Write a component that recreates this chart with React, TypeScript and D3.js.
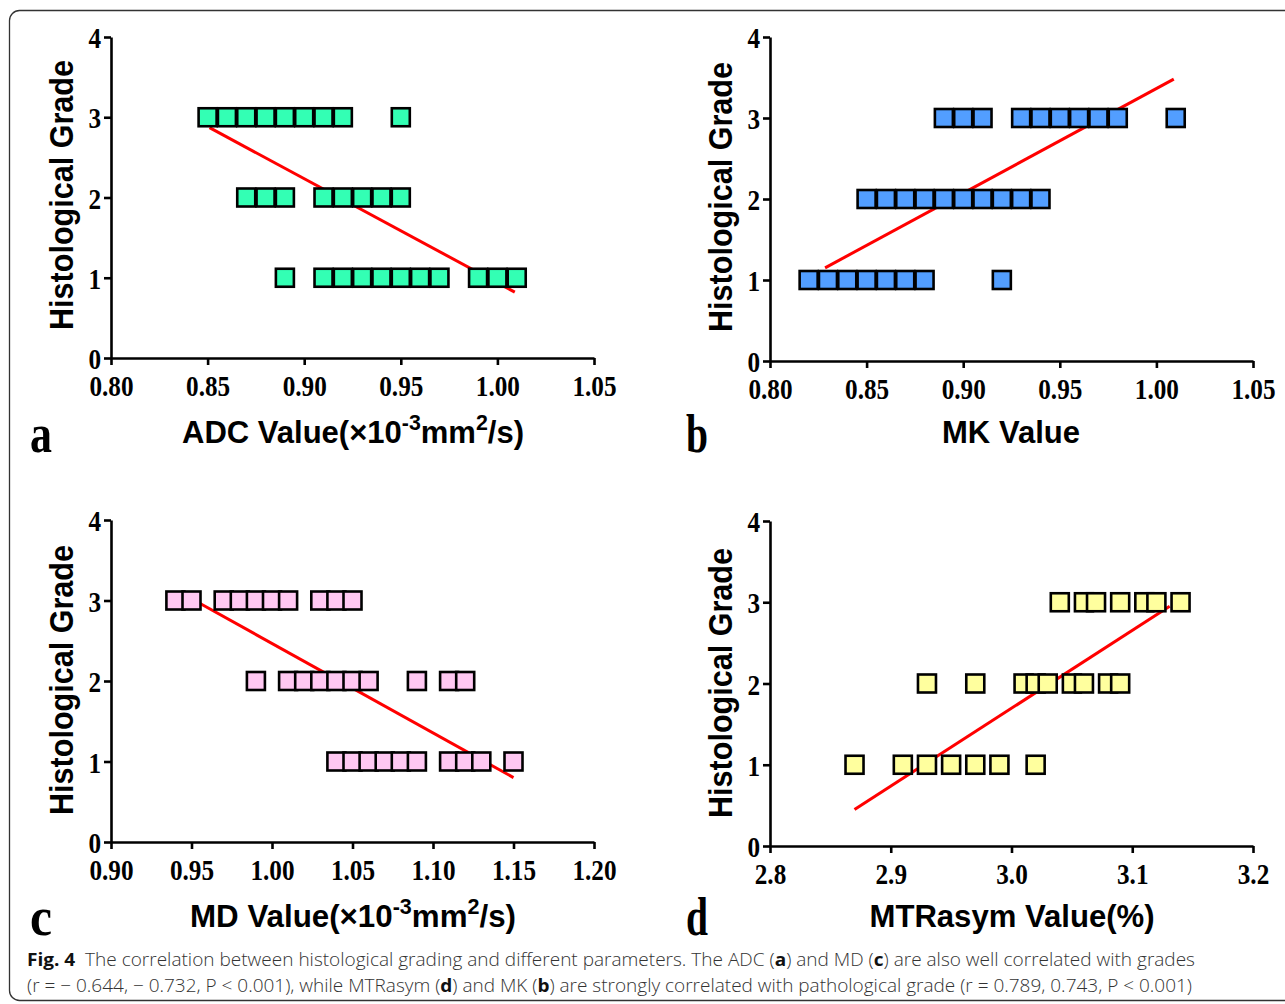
import { useEffect, useRef } from 'react';
import * as d3 from 'd3';

// grade axis
const gradeTicks = [0, 1, 2, 3, 4];

// a: ADC values per grade
const adcTicks = [0.8, 0.85, 0.9, 0.95, 1.0, 1.05];
const adcGrade1 = [0.89, 0.91, 0.92, 0.93, 0.94, 0.95, 0.96, 0.97, 0.99, 1.0, 1.01];
const adcGrade2 = [0.87, 0.88, 0.89, 0.91, 0.92, 0.93, 0.94, 0.95];
const adcGrade3 = [0.85, 0.86, 0.87, 0.88, 0.89, 0.9, 0.91, 0.92, 0.95];
const adcFit = [[0.851, 2.87], [1.009, 0.82]];

// b: MK values per grade
const mkTicks = [0.8, 0.85, 0.9, 0.95, 1.0, 1.05];
const mkGrade1 = [0.82, 0.83, 0.84, 0.85, 0.86, 0.87, 0.88, 0.92];
const mkGrade2 = [0.85, 0.86, 0.87, 0.88, 0.89, 0.9, 0.91, 0.92, 0.93, 0.94];
const mkGrade3 = [0.89, 0.9, 0.91, 0.93, 0.94, 0.95, 0.96, 0.97, 0.98, 1.01];
const mkFit = [[0.8285, 1.15], [1.009, 3.48]];

// c: MD values per grade
const mdTicks = [0.9, 0.95, 1.0, 1.05, 1.1, 1.15, 1.2];
const mdGrade1 = [1.04, 1.05, 1.06, 1.07, 1.08, 1.09, 1.11, 1.12, 1.13, 1.15];
const mdGrade2 = [0.99, 1.01, 1.02, 1.03, 1.04, 1.05, 1.06, 1.09, 1.11, 1.12];
const mdGrade3 = [0.94, 0.95, 0.97, 0.98, 0.99, 1.0, 1.01, 1.03, 1.04, 1.05];
const mdFit = [[0.952, 3.0], [1.15, 0.8]];

// d: MTRasym values per grade
const mtrTicks = [2.8, 2.9, 3.0, 3.1, 3.2];
const mtrGrade1 = [2.87, 2.91, 2.93, 2.95, 2.97, 2.99, 3.02];
const mtrGrade2 = [2.93, 2.97, 3.01, 3.02, 3.03, 3.05, 3.06, 3.08, 3.09];
const mtrGrade3 = [3.04, 3.06, 3.07, 3.09, 3.11, 3.12, 3.14];
const mtrFit = [[2.87, 0.45], [3.131, 2.95]];

const toPoints = (g1, g2, g3) => [
    ...g1.map(v => [v, 1]),
    ...g2.map(v => [v, 2]),
    ...g3.map(v => [v, 3]),
];

const panels = [
    {
        letter: 'a', xTicks: adcTicks, fmt: '.2f', pts: toPoints(adcGrade1, adcGrade2, adcGrade3), fit: adcFit,
        fill: '#33ffb4', xr: [111, 594], yr: [358, 37],
        title: ['ADC Value(×10', '-3', 'mm', '2', '/s)'], titleW: 342, titleX: 353, titleY: 443,
        yTitleX: 73, yTitleY: 195, letterX: 30, letterY: 452,
    },
    {
        letter: 'b', xTicks: mkTicks, fmt: '.2f', pts: toPoints(mkGrade1, mkGrade2, mkGrade3), fit: mkFit,
        fill: '#529eff', xr: [770, 1253], yr: [361, 37],
        title: ['MK Value'], titleW: 138, titleX: 1011, titleY: 443,
        yTitleX: 732, yTitleY: 197, letterX: 686, letterY: 452,
    },
    {
        letter: 'c', xTicks: mdTicks, fmt: '.2f', pts: toPoints(mdGrade1, mdGrade2, mdGrade3), fit: mdFit,
        fill: '#ffc8f2', xr: [111, 594], yr: [842, 520],
        title: ['MD Value(×10', '-3', 'mm', '2', '/s)'], titleW: 326, titleX: 353, titleY: 927,
        yTitleX: 73, yTitleY: 680, letterX: 30, letterY: 935,
    },
    {
        letter: 'd', xTicks: mtrTicks, fmt: '.1f', pts: toPoints(mtrGrade1, mtrGrade2, mtrGrade3), fit: mtrFit,
        fill: '#ffff9e', xr: [770, 1253], yr: [846, 521],
        title: ['MTRasym Value(%)'], titleW: 285, titleX: 1012, titleY: 927,
        yTitleX: 732, yTitleY: 683, letterX: 686, letterY: 935,
    },
];

const squeeze = (sel, k) => sel.each(function () {
    const w = this.getComputedTextLength();
    d3.select(this).attr('textLength', w * k).attr('lengthAdjust', 'spacingAndGlyphs');
});

const App = () => {
    const svgRef = useRef();

    useEffect(() => {
        const svg = d3.select(svgRef.current);
        svg.selectAll('*').remove();

        svg.append('rect')
            .attr('x', 9.5).attr('y', 10.5)
            .attr('width', 1300).attr('height', 990)
            .attr('rx', 10)
            .attr('fill', 'none')
            .attr('stroke', '#333')
            .attr('stroke-width', 1.3);

        panels.forEach(p => {
            const x = d3.scaleLinear().domain([p.xTicks[0], p.xTicks[p.xTicks.length - 1]]).range(p.xr);
            const y = d3.scaleLinear().domain([0, 4]).range(p.yr);
            const g = svg.append('g');

            // regression line first, squares drawn on top
            g.append('path')
                .datum(p.fit)
                .attr('d', d3.line().x(d => x(d[0])).y(d => y(d[1])))
                .attr('stroke', '#ff0000')
                .attr('stroke-width', 3)
                .attr('fill', 'none');

            g.selectAll('rect.pt')
                .data(p.pts)
                .enter()
                .append('rect')
                .attr('class', 'pt')
                .attr('x', d => x(d[0]) - 9)
                .attr('y', d => y(d[1]) - 9)
                .attr('width', 18)
                .attr('height', 18)
                .attr('fill', p.fill)
                .attr('stroke', '#000')
                .attr('stroke-width', 2.6);

            const xAxis = g.append('g')
                .attr('transform', `translate(0,${p.yr[0]})`)
                .call(d3.axisBottom(x).tickValues(p.xTicks).tickFormat(d3.format(p.fmt)).tickSize(7).tickSizeOuter(0).tickPadding(10));
            const yAxis = g.append('g')
                .attr('transform', `translate(${p.xr[0]},0)`)
                .call(d3.axisLeft(y).tickValues(gradeTicks).tickFormat(d3.format('d')).tickSize(7).tickSizeOuter(0).tickPadding(3));

            [xAxis, yAxis].forEach(ax => {
                ax.select('.domain').attr('stroke-width', 2.6).attr('stroke', '#000');
                ax.selectAll('.tick line').attr('stroke-width', 2.6).attr('stroke', '#000');
                ax.selectAll('.tick text')
                    .attr('font-family', '"Liberation Serif", "Times New Roman", serif')
                    .attr('font-weight', 'bold')
                    .attr('font-size', 30)
                    .attr('fill', '#000');
                squeeze(ax.selectAll('.tick text'), 0.84);
            });
            yAxis.selectAll('.tick text').attr('dy', '0.35em');

            // y title
            g.append('text')
                .attr('transform', `translate(${p.yTitleX},${p.yTitleY}) rotate(-90)`)
                .attr('text-anchor', 'middle')
                .attr('font-family', '"Liberation Sans", Arial, sans-serif')
                .attr('font-weight', 'bold')
                .attr('font-size', 34)
                .attr('textLength', 270)
                .attr('lengthAdjust', 'spacingAndGlyphs')
                .text('Histological Grade');

            // x title, with superscripts
            const t = g.append('text')
                .attr('x', p.titleX)
                .attr('y', p.titleY)
                .attr('text-anchor', 'middle')
                .attr('font-family', '"Liberation Sans", Arial, sans-serif')
                .attr('font-weight', 'bold')
                .attr('font-size', 32)
                .attr('textLength', p.titleW)
                .attr('lengthAdjust', 'spacingAndGlyphs');
            p.title.forEach((s, i) => {
                const sup = i % 2 === 1;
                t.append('tspan')
                    .attr('dy', sup ? -13 : (i > 0 ? 13 : 0))
                    .attr('font-size', sup ? 22 : 32)
                    .text(s);
            });

            g.append('text')
                .attr('x', p.letterX)
                .attr('y', p.letterY)
                .attr('font-family', '"Liberation Serif", "Times New Roman", serif')
                .attr('font-weight', 'bold')
                .attr('font-size', 54)
                .attr('textLength', 22)
                .attr('lengthAdjust', 'spacingAndGlyphs')
                .text(p.letter);
        });

        // caption
        const cap = svg.append('g')
            .attr('font-family', '"Open Sans", "Noto Sans", sans-serif')
            .attr('font-size', 18)
            .attr('fill', '#333');

        const line1 = cap.append('text').attr('x', 27).attr('y', 966)
            .attr('textLength', 1168).attr('lengthAdjust', 'spacingAndGlyphs');
        [
            ['Fig. 4', true], ['  The correlation between histological grading and different parameters. The ADC (', false],
            ['a', true], [') and MD (', false], ['c', true], [') are also well correlated with grades', false],
        ].forEach(([s, b]) => line1.append('tspan')
            .attr('font-weight', b ? 'bold' : 300)
            .attr('fill', b ? '#111' : '#333')
            .attr('xml:space', 'preserve')
            .text(s));

        const line2 = cap.append('text').attr('x', 27).attr('y', 992)
            .attr('textLength', 1165).attr('lengthAdjust', 'spacingAndGlyphs');
        [
            ['(r = − 0.644, − 0.732, P <  0.001), while MTRasym (', false], ['d', true],
            [') and MK (', false], ['b', true],
            [') are strongly correlated with pathological grade (r = 0.789, 0.743, P <  0.001)', false],
        ].forEach(([s, b]) => line2.append('tspan')
            .attr('font-weight', b ? 'bold' : 300)
            .attr('fill', b ? '#111' : '#333')
            .text(s));
    }, []);

    return (
        <svg
            ref={svgRef}
            width="1285"
            height="1004"
            style={{ position: 'absolute', left: 0, top: 0, background: '#fff' }}
        ></svg>
    );
};

export default App;
